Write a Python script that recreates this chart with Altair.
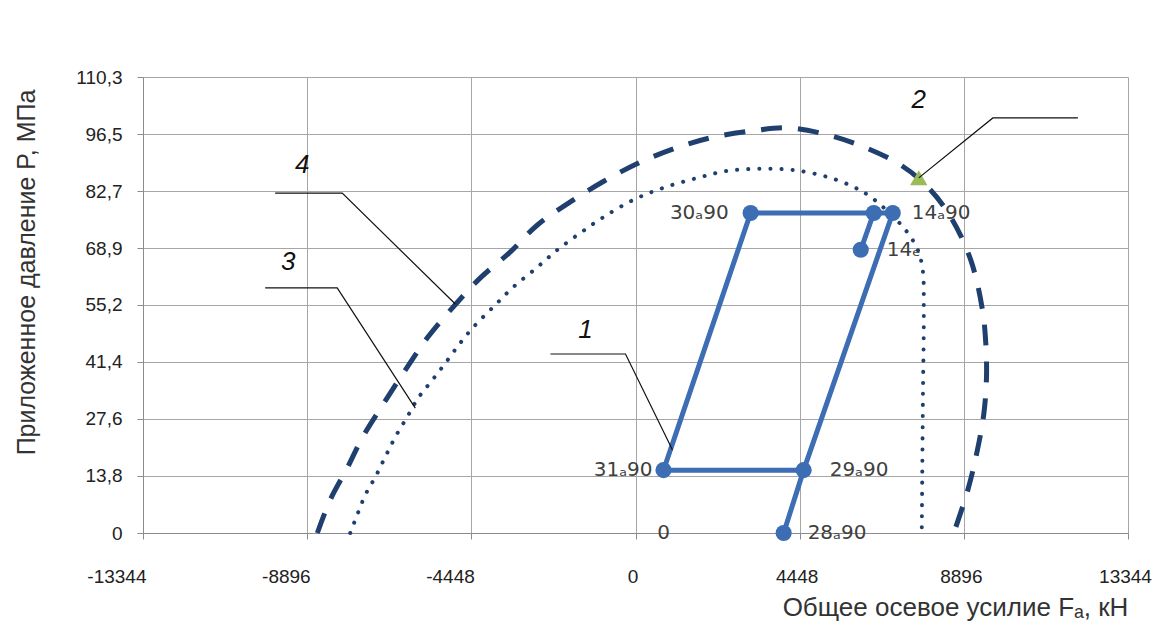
import altair as alt
import pandas as pd

# ---------------- data ----------------
x_ticks = [-13344, -8896, -4448, 0, 4448, 8896, 13344]
y_ticks = [0, 13.8, 27.6, 41.4, 55.2, 68.9, 82.7, 96.5, 110.3]

# series 1: main loading path (solid line with markers)
path_x = [4014, 4556, 6970, 3119, 759, 4556]
path_y = [0, 15.2, 77.4, 77.4, 15.2, 15.2]
# short branch 14e -> upper point
branch_x = [6102, 6455]
branch_y = [68.5, 77.4]

# markers of series 1
point_x = [4014, 4556, 759, 3119, 6455, 6970, 6102]
point_y = [0, 15.2, 15.2, 77.4, 77.4, 77.4, 68.5]

# data labels
label_text = ["28ₐ90", "29ₐ90", "31ₐ90", "30ₐ90", "14ₐ90", "14ₑ", "0"]
label_x = [4014, 4556, 759, 3119, 6970, 6102, 759]
label_y = [0, 15.2, 15.2, 77.4, 77.4, 68.5, 0]

# curve 4 (dashed envelope)
c4_x = [-8620, -8272, -7811, -7404, -6834, -6238, -5641, -4936, -4204, -3390,
        -2658, -1817, -895, 81, 1085, 2034, 3119, 4149, 5207, 6183,
        7187, 7919, 8543, 9085, 9400, 9490, 9510, 9440, 9248, 9004, 8624]
c4_y = [0, 8.0, 15.7, 23.0, 31.2, 39.4, 47.2, 54.7, 61.7, 68.0,
        74.5, 79.8, 84.9, 89.5, 93.1, 95.6, 97.2, 98.0, 96.3, 93.4,
        89.0, 83.7, 76.4, 66.0, 54.0, 46.0, 37.7, 29.0, 19.4, 10.4, 0]

# curve 3 (dotted envelope)
c3_x = [-7729, -7539, -7322, -7051, -6780, -6509, -6183, -5885, -5505, -5126,
        -4746, -4393, -3851, -3309, -2658, -2115, -1492, -868, -54, 759,
        1681, 2495, 3390, 4285, 5207, 5912, 6373, 6997, 7377, 7648,
        7783, 7811, 7790, 7770, 7756]
c3_y = [0, 4.4, 9.2, 13.5, 18.4, 23.2, 28.1, 32.7, 37.0, 41.4,
        46.0, 49.8, 54.7, 59.5, 64.3, 68.5, 72.6, 76.4, 80.6, 83.5,
        85.9, 87.6, 88.1, 87.8, 86.1, 83.7, 81.3, 76.4, 72.6, 68.5,
        63.6, 53.9, 35.0, 15.0, 0]

# point 2 (triangle)
tri_x = [7675]
tri_y = [85.9]

# callout numbers and leader lines
callout_text = ["1", "2", "3", "4"]
callout_x = [-1356, 7675, -9411, -9031]
callout_y = [49.1, 104.7, 65.6, 89.0]

lead1_x = [-2305, -271, 1003]
lead1_y = [43.3, 43.3, 20.1]
lead2_x = [11987, 9682, 7675]
lead2_y = [100.4, 100.4, 85.9]
lead3_x = [-10034, -8082, -5966]
lead3_y = [59.3, 59.3, 30.2]
lead4_x = [-9763, -7946, -4882]
lead4_y = [82.2, 82.2, 55.4]

# ---------------- style ----------------
FONT = "Liberation Sans"
BLUE = "#3d6db3"
NAVY = "#1f3f6e"
GREEN = "#9bbb59"
GRID = "#a6a6a6"
LABEL_DX = {"28ₐ90": 24, "29ₐ90": 26, "31ₐ90": -11, "30ₐ90": -22,
            "14ₐ90": 19, "14ₑ": 26, "0": 0}
LABEL_ALIGN = {"28ₐ90": "left", "29ₐ90": "left", "31ₐ90": "right",
               "30ₐ90": "right", "14ₐ90": "left", "14ₑ": "left", "0": "center"}

X_SCALE = alt.Scale(domain=[-13344, 13344], nice=False, zero=False)
Y_SCALE = alt.Scale(domain=[0, 110.3], nice=False, zero=False)

x_axis = alt.Axis(
    values=x_ticks, grid=True, gridColor=GRID, gridWidth=1,
    labelExpr="toString(datum.value)",
    labelAlign=alt.condition("datum.value < 0", alt.value("right"), alt.value("center")),
    labelOffset=alt.condition("datum.value < 0", alt.value(3), alt.value(-3)),
    domainColor="#8c8c8c", tickColor="#8c8c8c", tickSize=6,
    labelFont=FONT, labelFontSize=19, labelColor="#222222", labelPadding=28,
    title="Общее осевое усилие Fₐ, кН", titleFont=FONT, titleFontSize=26,
    titleFontWeight="normal", titleColor="#333333",
    titleX=812, titleY=74, titleAlign="center", titleBaseline="middle",
)
y_axis = alt.Axis(
    values=y_ticks, grid=True, gridColor=GRID, gridWidth=1,
    labelExpr="datum.value == 0 ? '0' : replace(format(datum.value, '.1f'), '.', ',')",
    domainColor="#8c8c8c", tickColor="#8c8c8c", tickSize=6,
    labelFont=FONT, labelFontSize=19, labelColor="#222222", labelPadding=15,
    title="Приложенное давление P, МПа", titleFont=FONT, titleFontSize=25,
    titleFontWeight="normal", titleColor="#333333",
    titleX=-117, titleY=195, titleAngle=-90, titleAlign="center", titleBaseline="middle",
)


def xy():
    return dict(
        x=alt.X("x:Q", scale=X_SCALE, axis=x_axis),
        y=alt.Y("y:Q", scale=Y_SCALE, axis=y_axis),
    )


def frame(xs, ys, extra=None):
    d = {"x": xs, "y": ys, "i": list(range(len(xs)))}
    if extra:
        d.update(extra)
    return pd.DataFrame(d)


layers = []

# curve 4 dashed
c4 = frame(c4_x, c4_y)
layers.append(
    alt.Chart(c4).mark_line(color=NAVY, strokeWidth=5, strokeDash=[21, 16],
                            interpolate="catmull-rom")
    .encode(**xy(), order="i:Q")
)

# curve 3 dotted
c3 = frame(c3_x, c3_y)
layers.append(
    alt.Chart(c3).mark_line(color=NAVY, strokeWidth=4, strokeDash=[0.1, 11],
                            strokeCap="round", interpolate="catmull-rom")
    .encode(**xy(), order="i:Q")
)

# series 1 lines
p1 = frame(path_x, path_y)
layers.append(
    alt.Chart(p1).mark_line(color=BLUE, strokeWidth=5).encode(**xy(), order="i:Q")
)
b1 = frame(branch_x, branch_y)
layers.append(
    alt.Chart(b1).mark_line(color=BLUE, strokeWidth=5).encode(**xy(), order="i:Q")
)

# series 1 markers
pts = frame(point_x, point_y)
layers.append(
    alt.Chart(pts).mark_point(shape="circle", filled=True, color=BLUE, size=260, opacity=1)
    .encode(**xy())
)

# triangle (2)
tri = frame(tri_x, tri_y)
layers.append(
    alt.Chart(tri).mark_point(shape="triangle-up", filled=True, color=GREEN, size=300, opacity=1)
    .encode(**xy())
)

# leader lines
for lx, ly in [(lead1_x, lead1_y), (lead2_x, lead2_y), (lead3_x, lead3_y), (lead4_x, lead4_y)]:
    ld = frame(lx, ly)
    layers.append(
        alt.Chart(ld).mark_line(color="#111111", strokeWidth=1.2).encode(**xy(), order="i:Q")
    )

# callout numbers
co = frame(callout_x, callout_y, {"t": callout_text})
layers.append(
    alt.Chart(co).mark_text(font=FONT, fontSize=26, fontStyle="italic", color="#111111",
                            align="center", baseline="middle")
    .encode(**xy(), text="t:N")
)

# data labels
for t, lx, ly in zip(label_text, label_x, label_y):
    ld = frame([lx], [ly], {"t": [t]})
    layers.append(
        alt.Chart(ld).mark_text(font="DejaVu Sans", fontSize=20, color="#404040",
                                align=LABEL_ALIGN[t], baseline="middle", dx=LABEL_DX[t])
        .encode(**xy(), text="t:N")
    )

chart = (
    alt.layer(*layers)
    .properties(
        width=985, height=456,
        autosize=alt.AutoSizeParams(type="none"),
        padding={"left": 135, "top": 69, "right": 34, "bottom": 89},
        background="white",
    )
    .configure_view(stroke=None)
)

chart.save("out.html", embed_options={"renderer": "svg", "actions": False})
